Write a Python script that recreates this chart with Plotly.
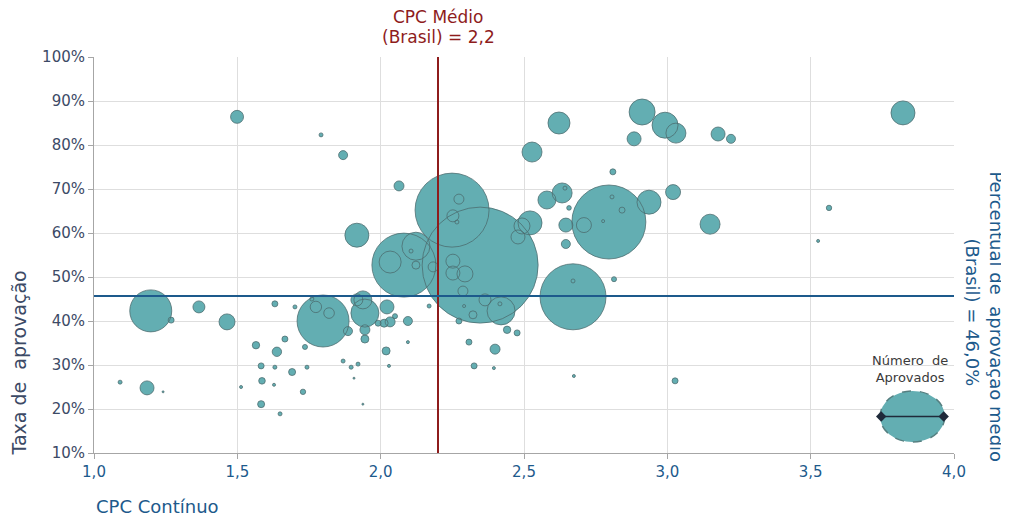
import plotly.graph_objects as go

# ---- data ----
cpc = [1.198, 1.269, 1.366, 1.464, 1.091, 1.185, 1.241, 1.499, 1.792, 1.869,
       2.064, 1.917, 1.513, 1.565, 1.631, 1.701, 1.666, 1.638, 1.736, 1.583,
       1.631, 1.691, 1.743, 1.586, 1.628, 1.729, 1.583, 1.649, 1.799, 1.774,
       1.820, 1.760, 1.886, 1.869, 1.897, 1.921, 1.907, 1.917, 1.938, 1.945,
       2.022, 2.050, 2.095, 2.033, 2.012, 1.991, 1.945, 1.945, 2.095, 2.019,
       2.029, 1.938, 2.081, 2.033, 2.123, 2.106, 2.123, 2.183, 2.249, 2.273,
       2.252, 2.266, 2.347, 2.252, 2.252, 2.294, 2.287, 2.322, 2.291, 2.364,
       2.420, 2.416, 2.521, 2.493, 2.479, 2.169, 2.273, 2.308, 2.326, 2.395,
       2.399, 2.441, 2.476, 2.674, 3.027, 2.671, 2.671, 2.814, 2.622, 2.528,
       2.912, 2.992, 3.030, 2.884, 3.177, 3.222, 2.810, 2.633, 2.643, 2.580,
       3.020, 2.936, 2.796, 2.709, 2.807, 2.842, 2.776, 2.657, 2.646, 2.646,
       3.149, 3.822, 3.564, 3.526]
taxa = [42.3, 40.2, 43.2, 39.8, 26.1, 24.8, 23.9, 86.4, 82.3, 77.7,
        70.7, 59.5, 25.0, 34.5, 43.9, 43.2, 35.9, 33.0, 34.1, 29.8,
        29.5, 28.4, 29.5, 26.4, 25.5, 23.9, 21.1, 18.9, 40.0, 43.2,
        41.8, 45.0, 37.7, 30.9, 29.5, 30.2, 27.0, 44.8, 44.8, 41.8,
        43.2, 41.1, 40.0, 39.8, 39.5, 39.5, 38.0, 35.9, 35.2, 33.2,
        29.8, 21.1, 52.7, 53.4, 57.0, 55.9, 52.7, 52.3, 65.2, 67.7,
        63.9, 62.5, 52.7, 53.6, 50.9, 50.7, 46.8, 41.4, 43.4, 44.8,
        42.3, 43.9, 62.3, 61.6, 59.1, 43.4, 40.0, 35.2, 29.8, 29.3,
        33.6, 38.0, 37.3, 27.5, 26.4, 45.5, 49.1, 49.5, 85.0, 78.4,
        87.5, 84.5, 82.7, 81.4, 82.5, 81.4, 73.9, 69.1, 70.2, 67.5,
        69.3, 67.0, 62.5, 61.8, 68.2, 65.2, 62.7, 65.7, 61.8, 57.5,
        62.0, 87.3, 65.7, 58.2]
aprovados = [4410, 90, 360, 640, 40, 490, 10, 423, 40, 203,
             250, 1440, 23, 137, 90, 40, 90, 221, 63, 90,
             40, 123, 40, 109, 23, 73, 123, 40, 6760, 325,
             281, 40, 203, 40, 40, 40, 10, 360, 810, 1960,
             490, 63, 203, 250, 160, 90, 250, 160, 23, 160,
             23, 10, 10240, 1210, 1960, 40, 160, 250, 13690, 250,
             360, 40, 33640, 490, 490, 640, 250, 160, 23, 360,
             1960, 40, 1440, 640, 490, 40, 90, 90, 90, 23,
             250, 137, 90, 23, 90, 10890, 40, 63, 1210, 1000,
             1690, 1690, 1000, 490, 490, 203, 90, 1000, 40, 810,
             563, 1440, 13690, 563, 40, 90, 23, 53, 490, 203,
             1000, 1440, 73, 23]

cpc_medio = 2.2
aprov_medio = 45.7

x_ticks = [1.0, 1.5, 2.0, 2.5, 3.0, 3.5, 4.0]
x_ticktext = ["1,0", "1,5", "2,0", "2,5", "3,0", "3,5", "4,0"]
y_ticks = [10, 20, 30, 40, 50, 60, 70, 80, 90, 100]
y_ticktext = [f"{v}%" for v in y_ticks]

# ---- styles ----
FONT = "DejaVu Sans"
TEAL = "rgb(99,174,178)"
EDGE = "rgba(75,105,108,0.75)"
RED = "#8e1c1c"
BLUE = "#1d5a8c"
SLATE = "#3c4a66"
SIZEREF = 5

fig = go.Figure()

# filled bubbles
fig.add_trace(go.Scatter(
    x=cpc, y=taxa, mode="markers", hoverinfo="skip",
    marker=dict(size=aprovados, sizemode="area", sizeref=SIZEREF, sizemin=1,
                color=TEAL, opacity=1, line=dict(width=0)),
    showlegend=False))
# outlines on top
fig.add_trace(go.Scatter(
    x=cpc, y=taxa, mode="markers",
    marker=dict(size=aprovados, sizemode="area", sizeref=SIZEREF, sizemin=1,
                color="rgba(0,0,0,0)", opacity=1,
                line=dict(width=1, color=EDGE)),
    showlegend=False))

# legend key (bubble size)
leg_x0, leg_x1, leg_y0, leg_y1 = 3.742, 3.968, 12.5, 24.1
leg_ym = (leg_y0 + leg_y1) / 2
fig.add_shape(type="circle", xref="x", yref="y", x0=leg_x0, x1=leg_x1,
              y0=leg_y0, y1=leg_y1, fillcolor=TEAL,
              line=dict(color="#557f80", width=1.5, dash="dash"), layer="between")
fig.add_trace(go.Scatter(
    x=[leg_x0 + 0.004, leg_x1 - 0.004], y=[leg_ym, leg_ym], mode="lines+markers",
    line=dict(color="#1f2a3a", width=1.5),
    marker=dict(symbol="diamond", size=8, color="#1f2a3a", opacity=1),
    hoverinfo="skip", showlegend=False))
fig.add_annotation(x=(leg_x0 + leg_x1) / 2 - 0.01, y=29.2, xref="x", yref="y",
                   text="Número  de<br>Aprovados", showarrow=False,
                   font=dict(family=FONT, size=13, color="#3a3a3a"))

# reference lines
fig.add_shape(type="line", xref="x", yref="y", x0=cpc_medio, x1=cpc_medio,
              y0=10, y1=100, line=dict(color=RED, width=2), layer="above")
fig.add_shape(type="line", xref="x", yref="y", x0=1, x1=4,
              y0=aprov_medio, y1=aprov_medio, line=dict(color=BLUE, width=2),
              layer="above")

# "CPC Médio (Brasil) = 2,2" (two lines)
for txt, shift in (("CPC Médio", 40), ("(Brasil) = 2,2", 20)):
    fig.add_annotation(x=cpc_medio, y=1, xref="x", yref="paper",
                       yanchor="middle", yshift=shift, showarrow=False,
                       text=txt, font=dict(family=FONT, size=17, color=RED))

# right-side rotated label (two lines)
for txt, shift, yp in (("Percentual de  aprovação médio", 43, 0.345),
                       ("(Brasil) = 46,0%", 19, 0.355)):
    fig.add_annotation(x=1, y=yp, xref="paper", yref="paper", xanchor="center",
                       yanchor="middle", xshift=shift, showarrow=False,
                       textangle=90, text=txt,
                       font=dict(family=FONT, size=18, color=BLUE))

fig.add_annotation(x=0, y=0.226, xref="paper", yref="paper", xshift=-75,
                   xanchor="center", yanchor="middle",
                   showarrow=False, textangle=-90,
                   text="Taxa de  aprovação",
                   font=dict(family=FONT, size=19, color=SLATE))
fig.add_annotation(x=0, y=0, xref="paper", yref="paper", xanchor="left",
                   yanchor="middle", yshift=-53, showarrow=False,
                   text="CPC Contínuo",
                   font=dict(family=FONT, size=18, color=BLUE))

# the page body has an 8px margin; size the figure so the plot area lands
# where the reference has it
fig.update_layout(
    width=1001, height=508,
    margin=dict(l=86, r=55, t=49, b=63),
    paper_bgcolor="white", plot_bgcolor="white",
    font=dict(family=FONT),
    xaxis=dict(range=[1, 4], tickvals=x_ticks, ticktext=x_ticktext,
               showgrid=True, gridcolor="#dedede", gridwidth=1,
               showline=True, linecolor="#a6a6a6", linewidth=1,
               ticks="outside", ticklen=5, tickcolor="#a6a6a6",
               tickfont=dict(family=FONT, size=15, color=BLUE),
               zeroline=False, fixedrange=True),
    yaxis=dict(range=[10, 100], tickvals=y_ticks, ticktext=y_ticktext,
               showgrid=True, gridcolor="#dedede", gridwidth=1,
               showline=True, linecolor="#a6a6a6", linewidth=1,
               ticks="outside", ticklen=5, tickcolor="#a6a6a6",
               tickfont=dict(family=FONT, size=15, color=SLATE),
               zeroline=False, fixedrange=True),
)

fig.write_html("out.html")
